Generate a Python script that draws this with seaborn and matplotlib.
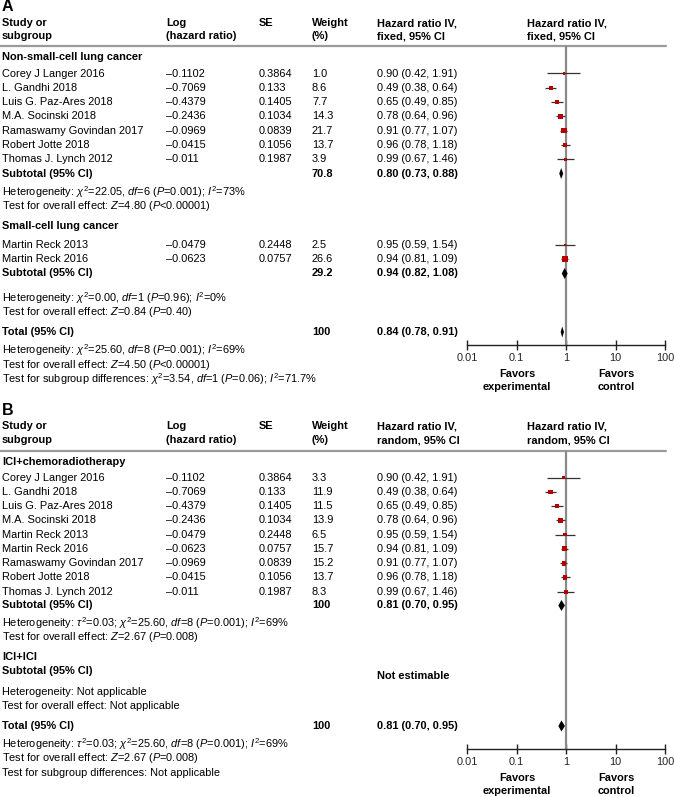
import matplotlib
matplotlib.use("Agg")
import matplotlib.pyplot as plt
import numpy as np
import pandas as pd
import seaborn as sns


# ---- panel A data (fixed effect) ----
names_a1 = ["Corey J Langer 2016", "L. Gandhi 2018", "Luis G. Paz-Ares 2018", "M.A. Socinski 2018",
            "Ramaswamy Govindan 2017", "Robert Jotte 2018", "Thomas J. Lynch 2012"]
loghr_a1 = [-0.1102, -0.7069, -0.4379, -0.2436, -0.0969, -0.0415, -0.011]
se_a1 = [0.3864, 0.133, 0.1405, 0.1034, 0.0839, 0.1056, 0.1987]
weight_a1 = [1.0, 8.6, 7.7, 14.3, 21.7, 13.7, 3.9]
hr_a1 = [0.90, 0.49, 0.65, 0.78, 0.91, 0.96, 0.99]
lo_a1 = [0.42, 0.38, 0.49, 0.64, 0.77, 0.78, 0.67]
hi_a1 = [1.91, 0.64, 0.85, 0.96, 1.07, 1.18, 1.46]
sub_a1 = [0.80, 0.73, 0.88]
subw_a1 = 70.8

names_a2 = ["Martin Reck 2013", "Martin Reck 2016"]
loghr_a2 = [-0.0479, -0.0623]
se_a2 = [0.2448, 0.0757]
weight_a2 = [2.5, 26.6]
hr_a2 = [0.95, 0.94]
lo_a2 = [0.59, 0.81]
hi_a2 = [1.54, 1.09]
sub_a2 = [0.94, 0.82, 1.08]
subw_a2 = 29.2
total_a = [0.84, 0.78, 0.91]

# ---- panel B data (random effects) ----
names_b = ["Corey J Langer 2016", "L. Gandhi 2018", "Luis G. Paz-Ares 2018", "M.A. Socinski 2018",
           "Martin Reck 2013", "Martin Reck 2016", "Ramaswamy Govindan 2017", "Robert Jotte 2018",
           "Thomas J. Lynch 2012"]
loghr_b = [-0.1102, -0.7069, -0.4379, -0.2436, -0.0479, -0.0623, -0.0969, -0.0415, -0.011]
se_b = [0.3864, 0.133, 0.1405, 0.1034, 0.2448, 0.0757, 0.0839, 0.1056, 0.1987]
weight_b = [3.3, 11.9, 11.5, 13.9, 6.5, 15.7, 15.2, 13.7, 8.3]
hr_b = [0.90, 0.49, 0.65, 0.78, 0.95, 0.94, 0.91, 0.96, 0.99]
lo_b = [0.42, 0.38, 0.49, 0.64, 0.59, 0.81, 0.77, 0.78, 0.67]
hi_b = [1.91, 0.64, 0.85, 0.96, 1.54, 1.09, 1.07, 1.18, 1.46]
sub_b = [0.81, 0.70, 0.95]
total_b = [0.81, 0.70, 0.95]

axis_ticks = [0.01, 0.1, 1, 10, 100]
axis_labels = ["0.01", "0.1", "1", "10", "100"]

W, H = 674, 797
FS = 7.9
COL_STUDY, COL_LOG, COL_SE, COL_W, COL_HR, COL_PLOT = 2, 166, 259, 312, 377, 527
PLOT_L, PLOT_R = 467, 665
SQ_COLOR = "#b40000"
CI_COLOR = "#333333"

sns.set_theme(style="white")
plt.rcParams["font.family"] = ["Liberation Sans", "DejaVu Sans"]
plt.rcParams["mathtext.fontset"] = "custom"
plt.rcParams["mathtext.rm"] = "Liberation Sans"
plt.rcParams["mathtext.it"] = "Liberation Sans:italic"
plt.rcParams["mathtext.bf"] = "Liberation Sans:bold"

fig = plt.figure(figsize=(W / 100, H / 100), dpi=100)
ax0 = fig.add_axes([0, 0, 1, 1])
ax0.set_xlim(0, W)
ax0.set_ylim(H, 0)
ax0.axis("off")


def txt(x, y, s, bold=False, size=FS, ha="left"):
    ax0.text(x, y, s, ha=ha, va="center", fontsize=size, color="black",
             fontweight="bold" if bold else "normal")


def num(v):
    return f"{v}".replace("-", "\u2013")


def ci_str(v):
    return f"{v[0]:.2f} ({v[1]:.2f}, {v[2]:.2f})"


def header(y1, y2, kind):
    txt(COL_STUDY, y1, "Study or", True)
    txt(COL_STUDY, y2, "subgroup", True)
    txt(COL_LOG, y1, "Log", True)
    txt(COL_LOG, y2, "(hazard ratio)", True)
    txt(COL_SE, y1, "SE", True)
    txt(COL_W, y1, "Weight", True)
    txt(COL_W, y2, "(%)", True)
    for x in (COL_HR, COL_PLOT):
        txt(x, y1, "Hazard ratio IV,", True)
        txt(x, y2, f"{kind}, 95% CI", True)


def make_forest(top, bottom):
    fax = fig.add_axes([PLOT_L / W, (H - bottom) / H, (PLOT_R - PLOT_L) / W, (bottom - top) / H])
    fax.set_facecolor("none")
    fax.set_xscale("log")
    fax.set_xlim(axis_ticks[0], axis_ticks[-1])
    fax.set_ylim(bottom, top)
    for sp in ("left", "right", "top"):
        fax.spines[sp].set_visible(False)
    fax.spines["bottom"].set_color("#222222")
    fax.spines["bottom"].set_linewidth(1.0)
    fax.set_xticks(axis_ticks)
    fax.set_xticklabels(axis_labels)
    fax.xaxis.set_minor_locator(matplotlib.ticker.NullLocator())
    fax.tick_params(axis="x", direction="inout", length=7, width=1.0, color="#222222",
                    labelsize=FS, pad=2, bottom=True)
    fax.set_yticks([])
    fax.axvline(1, color="#8a8a8a", lw=1.6, zorder=1)
    return fax


def study_rows(fax, ys, names, loghr, se, weight, hr, lo, hi):
    for y, n, l, s, w, h, a, b in zip(ys, names, loghr, se, weight, hr, lo, hi):
        txt(COL_STUDY, y, n)
        txt(COL_LOG, y, num(l))
        txt(COL_SE, y, num(s))
        txt(COL_W, y, f"{w:.1f}")
        txt(COL_HR, y, ci_str((h, a, b)))
    fax.hlines(ys, lo, hi, color=CI_COLOR, lw=0.9, zorder=2)
    df = pd.DataFrame({"hr": hr, "y": ys, "w": weight})
    sns.scatterplot(data=df, x="hr", y="y", size="w", size_norm=(0, 30), sizes=(2.5, 21),
                    marker="s", color=SQ_COLOR, linewidth=0, legend=False, ax=fax, zorder=3)
    fax.set_xlabel("")
    fax.set_ylabel("")


def diamond(fax, y, v, h=5.5):
    fax.fill([v[1], v[0], v[2], v[0]], [y, y - h, y, y + h], color="black", lw=0, zorder=4)


def separator(y):
    ax0.plot([0, 666], [y, y], color="#9a9a9a", lw=1.6)


def favors(y1, y2):
    txt(517, y1, "Favors", True, ha="center")
    txt(517, y2, "experimental", True, ha="center")
    txt(616, y1, "Favors", True, ha="center")
    txt(616, y2, "control", True, ha="center")


# ================= Panel A =================
txt(2, 6, "A", True, size=11.5)
header(23, 36, "fixed")
separator(46)
fa = make_forest(46, 345)

txt(COL_STUDY, 57, "Non-small-cell lung cancer", True)
ys_a1 = [73.5 + 14.3 * i for i in range(len(names_a1))]
study_rows(fa, ys_a1, names_a1, loghr_a1, se_a1, weight_a1, hr_a1, lo_a1, hi_a1)
txt(COL_STUDY, 173.5, "Subtotal (95% CI)", True)
txt(COL_W, 173.5, f"{subw_a1:.1f}", True)
txt(COL_HR, 173.5, ci_str(sub_a1), True)
diamond(fa, 173.5, sub_a1)
txt(COL_STUDY, 192, r"Heterogeneity: $\chi^2$=22.05, $df$=6 ($P$=0.001); $I^2$=73%")
txt(COL_STUDY, 206, r"Test for overall effect: $Z$=4.80 ($P$<0.00001)")

txt(COL_STUDY, 226, "Small-cell lung cancer", True)
ys_a2 = [245, 259.3]
study_rows(fa, ys_a2, names_a2, loghr_a2, se_a2, weight_a2, hr_a2, lo_a2, hi_a2)
txt(COL_STUDY, 273.5, "Subtotal (95% CI)", True)
txt(COL_W, 273.5, f"{subw_a2:.1f}", True)
txt(COL_HR, 273.5, ci_str(sub_a2), True)
diamond(fa, 273.5, sub_a2)
txt(COL_STUDY, 298, r"Heterogeneity: $\chi^2$=0.00, $df$=1 ($P$=0.96); $I^2$=0%")
txt(COL_STUDY, 312, r"Test for overall effect: $Z$=0.84 ($P$=0.40)")

txt(COL_STUDY, 332, "Total (95% CI)", True)
txt(COL_W, 332, "100", True)
txt(COL_HR, 332, ci_str(total_a), True)
diamond(fa, 332, total_a)
txt(COL_STUDY, 350, r"Heterogeneity: $\chi^2$=25.60, $df$=8 ($P$=0.001); $I^2$=69%")
txt(COL_STUDY, 365, r"Test for overall effect: $Z$=4.50 ($P$<0.00001)")
txt(COL_STUDY, 379, r"Test for subgroup differences: $\chi^2$=3.54, $df$=1 ($P$=0.06); $I^2$=71.7%")
favors(374, 387)

# ================= Panel B =================
txt(2, 410.5, "B", True, size=11.5)
header(426, 440, "random")
separator(450.5)
fb = make_forest(450.5, 749)

txt(COL_STUDY, 461.5, "ICI+chemoradiotherapy", True)
ys_b = [477.5 + 14.27 * i for i in range(len(names_b))]
study_rows(fb, ys_b, names_b, loghr_b, se_b, weight_b, hr_b, lo_b, hi_b)
txt(COL_STUDY, 605.5, "Subtotal (95% CI)", True)
txt(COL_W, 605.5, "100", True)
txt(COL_HR, 605.5, ci_str(sub_b), True)
diamond(fb, 605.5, sub_b)
txt(COL_STUDY, 623, r"Heterogeneity: $\tau^2$=0.03; $\chi^2$=25.60, $df$=8 ($P$=0.001); $I^2$=69%")
txt(COL_STUDY, 637, r"Test for overall effect: $Z$=2.67 ($P$=0.008)")

txt(COL_STUDY, 657, "ICI+ICI", True)
txt(COL_STUDY, 671, "Subtotal (95% CI)", True)
txt(COL_HR, 676, "Not estimable", True)
txt(COL_STUDY, 692, "Heterogeneity: Not applicable")
txt(COL_STUDY, 706, "Test for overall effect: Not applicable")

txt(COL_STUDY, 726, "Total (95% CI)", True)
txt(COL_W, 726, "100", True)
txt(COL_HR, 726, ci_str(total_b), True)
diamond(fb, 726, total_b)
txt(COL_STUDY, 744, r"Heterogeneity: $\tau^2$=0.03; $\chi^2$=25.60, $df$=8 ($P$=0.001); $I^2$=69%")
txt(COL_STUDY, 758, r"Test for overall effect: $Z$=2.67 ($P$=0.008)")
txt(COL_STUDY, 773, "Test for subgroup differences: Not applicable")
favors(778, 791)

fig.savefig("out.png", dpi=100)
